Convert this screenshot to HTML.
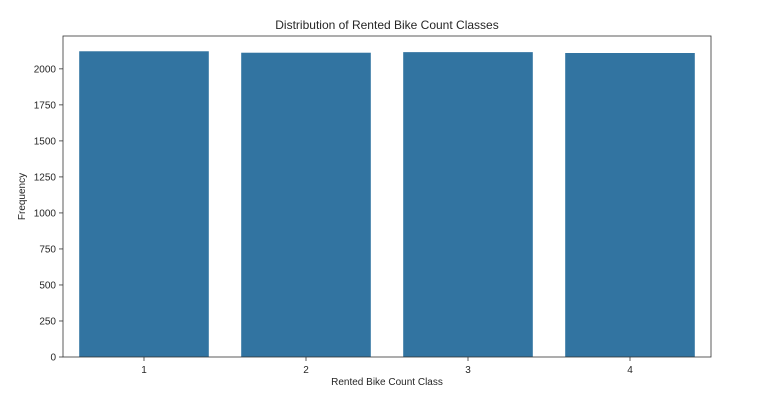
<!DOCTYPE html>
<html><head><meta charset="utf-8"><style>
body{margin:0;background:#fff;}
svg text{font-family:"Liberation Sans","DejaVu Sans",sans-serif;fill:#262626;}
</style></head><body>
<svg id="chart" width="757" height="404"></svg>
<script>
const categories = ["1","2","3","4"];
const frequencies = [2122, 2112, 2116, 2110];
const yTicks = [0,250,500,750,1000,1250,1500,1750,2000];
const title = "Distribution of Rented Bike Count Classes";

const svg = document.getElementById('chart');
const NS = 'http://www.w3.org/2000/svg';
const L = 63, R = 711, T = 36, B = 357;
const yMax = 2228;
const y = v => B - v / yMax * (B - T);
const band = (R - L) / categories.length;
const x = i => L + band * i + band * 0.1;
const bw = band * 0.8;
function mk(tag, attrs, txt){const e=document.createElementNS(NS,tag);for(const k in attrs)e.setAttribute(k,attrs[k]);if(txt!==undefined)e.textContent=txt;svg.appendChild(e);return e;}

let t = mk('text',{x:(L+R)/2,y:29,'text-anchor':'middle','font-size':12},title);



frequencies.forEach((v,i)=>{
  const r = mk('rect',{x:x(i),y:y(v),width:bw,height:B-y(v),fill:'#3274a1'});
  
  
  const tk = mk('line',{x1:x(i)+bw/2,x2:x(i)+bw/2,y1:B,y2:B+4,stroke:'#333','stroke-width':0.8});
  
  
  const lb = mk('text',{x:x(i)+bw/2,y:B+16,'text-anchor':'middle','font-size':10},categories[i]);
  
  
});
yTicks.forEach(v=>{
  const tk = mk('line',{x1:L-4,x2:L,y1:y(v),y2:y(v),stroke:'#333','stroke-width':0.8});
  
  
  const lb = mk('text',{x:L-7,y:y(v)+3.5,'text-anchor':'end','font-size':10},String(v));
  
  
});
const fr = mk('rect',{x:L,y:T,width:R-L,height:B-T,fill:'none',stroke:'#333','stroke-width':0.8});


const xt = mk('text',{x:(L+R)/2,y:385,'text-anchor':'middle','font-size':10},'Rented Bike Count Class');


const yt = mk('text',{x:0,y:0,'text-anchor':'middle','font-size':10,transform:'translate(25,'+((T+B)/2)+') rotate(-90)'},'Frequency');


</script>
</body></html>
